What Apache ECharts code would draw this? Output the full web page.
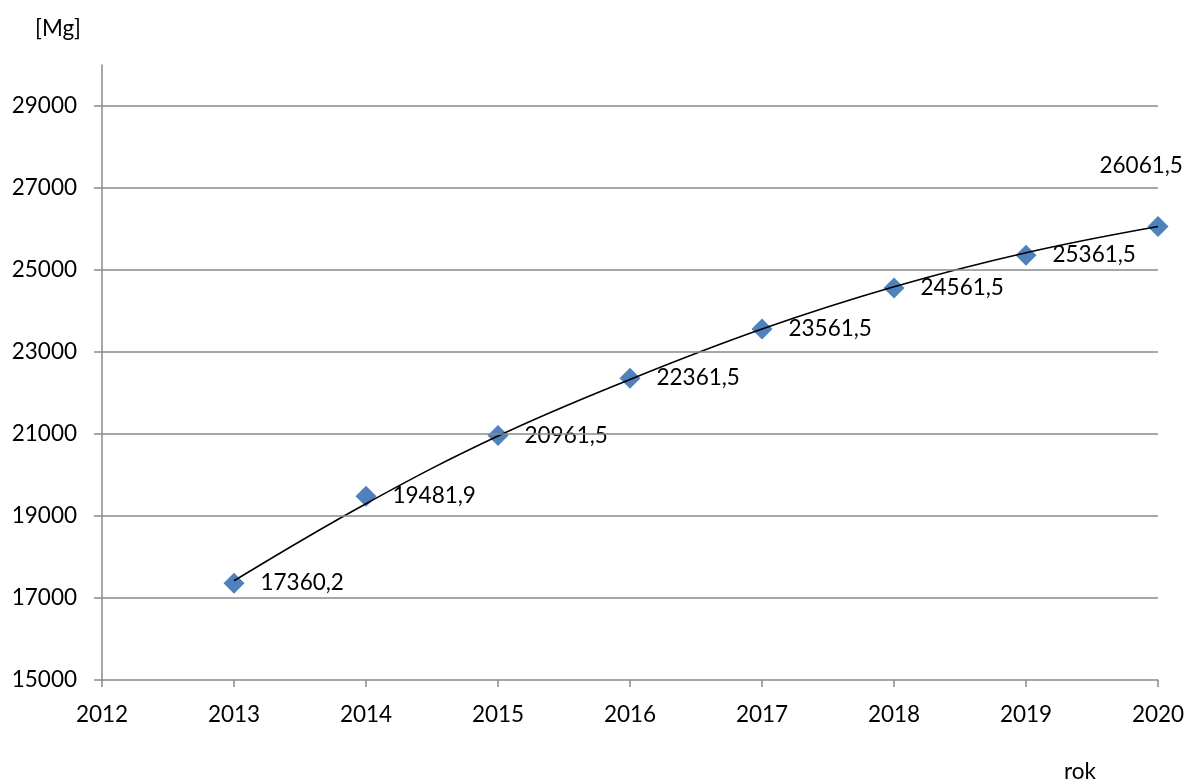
<!DOCTYPE html>
<html>
<head>
<meta charset="utf-8">
<script src="https://cdn.jsdelivr.net/npm/echarts@6/dist/echarts.min.js"></script>
<style>
  html, body { margin: 0; padding: 0; background: #fff; }
  #chart { width: 1190px; height: 781px; }
</style>
</head>
<body>
<div id="chart"></div>
<script>
// lata i wartości [Mg]
var years = [2013, 2014, 2015, 2016, 2017, 2018, 2019, 2020];
var values = [17360.2, 19481.9, 20961.5, 22361.5, 23561.5, 24561.5, 25361.5, 26061.5];
// linia trendu
var trend = [17420, 19300, 20950, 22330, 23560, 24590, 25420, 26060];
var yTicks = [15000, 17000, 19000, 21000, 23000, 25000, 27000, 29000];

var font = 'Lato, "Open Sans", sans-serif';
var gridColor = '#8a8a8a';
var fs = 22.5;

var points = years.map(function (y, i) { return [y, values[i]]; });
var trendPts = years.map(function (y, i) { return [y, trend[i]]; });

var chart = echarts.init(document.getElementById('chart'));
chart.setOption({
    animation: false,
    textStyle: { fontFamily: font },
    title: [
        { text: '[Mg]', left: 30, top: 12, textStyle: { fontFamily: font, fontSize: fs, fontWeight: 'normal', color: '#000' } },
        { text: 'rok', left: 1059, top: 755, textStyle: { fontFamily: font, fontSize: fs, fontWeight: 'normal', color: '#000' } }
    ],
    grid: { left: 102, right: 32, top: 65, bottom: 101, containLabel: false },
    xAxis: {
        type: 'value',
        min: 2012, max: 2020, interval: 1,
        axisLine: { show: true, onZero: false, lineStyle: { color: gridColor, width: 1.5 } },
        axisTick: { show: true, length: 7, lineStyle: { color: gridColor, width: 1.5 } },
        axisLabel: { color: '#000', fontSize: fs, margin: 23, formatter: function (v) { return String(v); } },
        splitLine: { show: false }
    },
    yAxis: {
        type: 'value',
        min: 15000, max: 30000, interval: 1000,
        axisLine: { show: true, lineStyle: { color: gridColor, width: 1.5 } },
        axisTick: { show: true, length: 8, customValues: yTicks, lineStyle: { color: gridColor, width: 1.5 } },
        axisLabel: { color: '#000', fontSize: fs, margin: 25, customValues: yTicks, formatter: function (v) { return String(v); } },
        splitLine: { show: false }
    },
    series: [
        {
            type: 'scatter',
            data: points,
            symbol: 'diamond',
            symbolSize: [21, 21],
            itemStyle: { color: '#4F81BD', opacity: 1 },
            z: 2,
            label: {
                show: true,
                position: 'right',
                distance: 16,
                offset: [0, 2],
                color: '#000',
                fontSize: fs,
                formatter: function (p) { return String(p.value[1]).replace('.', ','); }
            },
            labelLayout: function (params) {
                if (params.dataIndex === years.length - 1) {
                    return { x: params.rect.x - 48, y: params.rect.y - 62 };
                }
            }
        },
        {
            type: 'line',
            data: trendPts,
            smooth: 0.4,
            showSymbol: false,
            lineStyle: { color: '#000', width: 1.6 },
            z: 3,
            markLine: {
                silent: true,
                symbol: 'none',
                label: { show: false },
                lineStyle: { color: gridColor, width: 1.5, type: 'solid' },
                data: yTicks.slice(1).map(function (v) { return { yAxis: v }; })
            }
        }
    ]
});
</script>
</body>
</html>
